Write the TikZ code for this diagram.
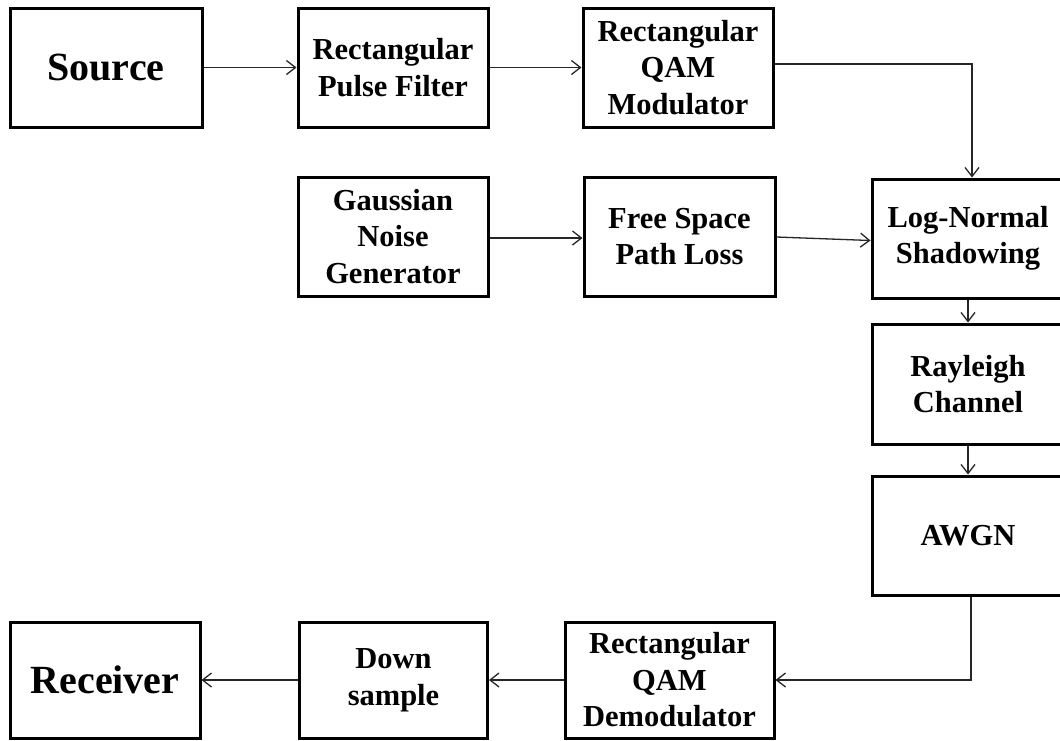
\documentclass[tikz,border=0pt]{standalone}
\usepackage{fontspec}
\setmainfont{Liberation Serif}
\usetikzlibrary{arrows.meta}
\begin{document}
\begin{tikzpicture}[x=1pt,y=-1pt,
  block/.style={draw=black, line width=3pt, fill=white, rectangle,
    align=center, inner sep=0pt, font=\bfseries\fontsize{30.5}{36.5}\selectfont},
  bigblock/.style={block, font=\bfseries\fontsize{40}{48}\selectfont},
  link/.style={draw=black!85, line width=1.3pt},
  flow/.style={link, -{Straight Barb[length=9pt,width=14pt,line width=1.3pt]}}]
\useasboundingbox (0,0) rectangle (1060,740);
\clip (0,0) rectangle (1060,740);
\fill[white] (0,0) rectangle (1060,740);

% transmitter chain
\node[bigblock, minimum width=192pt, minimum height=119pt] (src) at (106,67.5) {Source};
\node[block, minimum width=190pt, minimum height=119pt] (rpf) at (393,67.5) {Rectangular\\Pulse Filter};
\node[block, minimum width=190pt, minimum height=119pt] (qam) at (678,67.5) {Rectangular\\QAM\\Modulator};

% noise and path loss
\node[block, minimum width=190pt, minimum height=119pt] (gng) at (393,236.5) {Gaussian\\Noise\\Generator};
\node[block, minimum width=191pt, minimum height=119pt] (fspl) at (679.5,236.5) {Free Space\\Path Loss};

% channel column
\node[block, minimum width=192pt, minimum height=119pt] (lns) at (968,238.5) {Log-Normal\\Shadowing};
\node[block, minimum width=192pt, minimum height=120pt] (ray) at (968,384) {Rayleigh\\Channel};
\node[block, minimum width=192pt, minimum height=119pt] (awgn) at (968,535.5) {AWGN};

% receiver chain
\node[bigblock, minimum width=190pt, minimum height=116pt] (rcv) at (105,680) {Receiver};
\node[block, minimum width=188pt, minimum height=116pt] (ds) at (393.5,680) {Down\\sample};
\node[block, minimum width=209pt, minimum height=116pt] (dem) at (669.5,680) {Rectangular\\QAM\\Demodulator};

% connectors
\draw[flow] (src.east) -- (rpf.west);
\draw[flow] (rpf.east) -- (qam.west);
\draw[flow] ([yshift=3.5pt]qam.east) -| ([xshift=4pt]lns.north);
\draw[flow] ([yshift=-1.5pt]gng.east) -- ([yshift=-1.5pt]fspl.west);
\draw[flow] ([yshift=-0.5pt]fspl.east) -- ([yshift=-2pt]lns.west);
\draw[flow] (lns.south) -- (ray.north);
\draw[flow] (ray.south) -- (awgn.north);
\draw[flow] ([xshift=3pt]awgn.south) |- (dem.east);
\draw[flow] (dem.west) -- (ds.east);
\draw[flow] (ds.west) -- (rcv.east);
\end{tikzpicture}
\end{document}
